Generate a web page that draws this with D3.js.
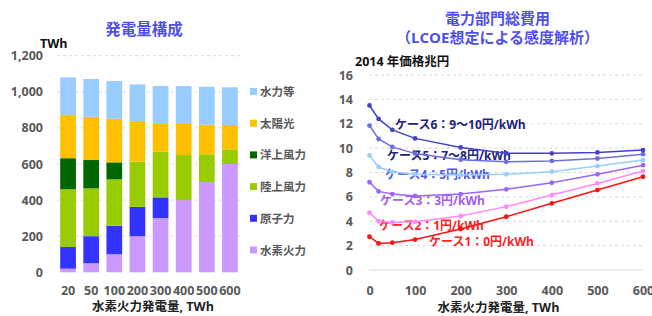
<!DOCTYPE html>
<html>
<head>
<meta charset="utf-8">
<script src="https://cdn.jsdelivr.net/npm/d3@7"></script>
<style>
  body { margin: 0; background: #fff; }
  svg { display: block; font-family: "Open Sans", "Noto Sans CJK JP", sans-serif; font-weight: bold; }
</style>
</head>
<body>
<svg width="652" height="316"></svg>
<script>
// ---- left chart data: generation mix (TWh) ----
let categories = ["20", "50", "100", "200", "300", "400", "500", "600"];
let sources = ["水素火力", "原子力", "陸上風力", "洋上風力", "太陽光", "水力等"];
let hydrogen = [20, 50, 100, 200, 300, 400, 500, 600];
let nuclear  = [120, 150, 158, 163, 115, 0, 0, 0];
let onshore  = [320, 265, 257, 250, 253, 250, 154, 81];
let offshore = [172, 157, 94, 0, 0, 0, 0, 0];
let solar    = [239, 240, 242, 220, 154, 172, 164, 135];
let hydro    = [209, 209, 209, 208, 210, 210, 210, 209];
let barTicks = [0, 200, 400, 600, 800, 1000, 1200];

// ---- right chart data: total system cost (trillion yen, 2014 prices) ----
let h2Output = [0, 20, 50, 100, 200, 300, 400, 500, 600];
let caseNames = ["ケース6：9～10円/kWh", "ケース5：7～8円/kWh", "ケース4：5円/kWh",
                 "ケース3：3円/kWh", "ケース2：1円/kWh", "ケース1：0円/kWh"];
let case6 = [13.5, 12.4, 11.5, 10.8, 10.05, 9.57, 9.57, 9.65, 9.84];
let case5 = [11.85, 10.75, 10.1, 9.55, 9.05, 8.88, 8.95, 9.15, 9.5];
let case4 = [9.4, 8.45, 8.05, 7.85, 7.8, 7.85, 8.07, 8.53, 9.02];
let case3 = [7.2, 6.45, 6.23, 6.07, 6.23, 6.62, 7.16, 7.85, 8.6];
let case2 = [4.7, 4.0, 3.9, 3.95, 4.43, 5.2, 6.15, 7.1, 8.12];
let case1 = [2.73, 2.18, 2.24, 2.5, 3.36, 4.37, 5.47, 6.56, 7.65];
let costTicks = [0, 2, 4, 6, 8, 10, 12, 14, 16];
let costXTicks = [0, 100, 200, 300, 400, 500, 600];

let svg = d3.select("svg");
let titleColor = "#4f4fef",
    tickColor = "#595959",
    gridColor = "#d9d9d9";

// ================= left: stacked bars =================
let barColors = {
  "水素火力": "#cc99ff",
  "原子力": "#3333ff",
  "陸上風力": "#99cc00",
  "洋上風力": "#006600",
  "太陽光": "#ffc000",
  "水力等": "#99ccff"
};
let seriesVals = {
  "水素火力": hydrogen, "原子力": nuclear, "陸上風力": onshore,
  "洋上風力": offshore, "太陽光": solar, "水力等": hydro
};
let rows = categories.map(function(c, i) {
  let r = {cat: c};
  sources.forEach(function(s) { r[s] = seriesVals[s][i]; });
  return r;
});
let stacked = d3.stack().keys(sources)(rows);

let xb = d3.scaleBand().domain(categories).range([56.5, 241.5]).paddingInner(0.32).paddingOuter(0.16);
let yb = d3.scaleLinear().domain([0, 1200]).range([272.3, 55.7]);

let left = svg.append("g");

left.append("text").attr("x", 144).attr("y", 35).attr("text-anchor", "middle")
  .attr("fill", titleColor).attr("font-size", 15.5).text("発電量構成");

left.append("text").attr("x", 40).attr("y", 48).attr("font-size", 12.5)
  .attr("fill", "#111").text("TWh");

left.selectAll(".bgrid").data(barTicks.slice(1)).enter().append("line")
  .attr("x1", 57).attr("x2", 243)
  .attr("y1", function(d) { return yb(d); }).attr("y2", function(d) { return yb(d); })
  .attr("stroke", gridColor).attr("stroke-dasharray", "3,3");

left.append("g").attr("transform", "translate(43,0)")
  .call(d3.axisLeft(yb).tickValues(barTicks).tickSize(0).tickPadding(0).tickFormat(d3.format(",")))
  .call(function(g) { g.select(".domain").remove(); })
  .selectAll("text").attr("fill", tickColor).attr("font-size", 12.5)
  .attr("font-family", "'Open Sans', sans-serif").attr("font-weight", "bold");

left.selectAll(".layer").data(stacked).enter().append("g")
  .attr("fill", function(d) { return barColors[d.key]; })
  .selectAll("rect").data(function(d) { return d; }).enter().append("rect")
  .attr("x", function(d) { return xb(d.data.cat); })
  .attr("width", xb.bandwidth())
  .attr("y", function(d) { return yb(d[1]); })
  .attr("height", function(d) { return yb(d[0]) - yb(d[1]); });

left.append("g").attr("transform", "translate(0,286)")
  .call(d3.axisBottom(xb).tickSize(0).tickPadding(0))
  .call(function(g) { g.select(".domain").remove(); })
  .selectAll("text").attr("fill", tickColor).attr("font-size", 12.5)
  .attr("font-family", "'Open Sans', sans-serif").attr("font-weight", "bold");

left.append("text").attr("x", 153).attr("y", 311).attr("text-anchor", "middle")
  .attr("font-size", 12.5).attr("fill", "#222").text("水素火力発電量, TWh");

// legend (top to bottom reversed stack order)
let legendOrder = sources.slice().reverse();
let legY = d3.scalePoint().domain(legendOrder).range([91.5, 250]);
let leg = left.selectAll(".leg").data(legendOrder).enter().append("g")
  .attr("transform", function(d) { return "translate(250," + legY(d) + ")"; });
leg.append("rect").attr("x", 0).attr("y", -3.5).attr("width", 7).attr("height", 7)
  .attr("fill", function(d) { return barColors[d]; });
leg.append("text").attr("x", 10).attr("y", 4.5).attr("font-size", 11.5)
  .attr("fill", tickColor).text(function(d) { return d; });

// ================= right: cost lines =================
let xl = d3.scaleLinear().domain([0, 600]).range([369.5, 643]);
let yl = d3.scaleLinear().domain([0, 16]).range([270, 75]);

let right = svg.append("g");

right.append("text").attr("x", 497.5).attr("y", 24).attr("text-anchor", "middle")
  .attr("fill", titleColor).attr("font-size", 15).text("電力部門総費用");
right.append("text").attr("x", 497.5).attr("y", 42.5).attr("text-anchor", "middle")
  .attr("fill", titleColor).attr("font-size", 15).text("（LCOE想定による感度解析）");

right.append("text").attr("x", 355).attr("y", 66).attr("font-size", 12.5)
  .attr("fill", "#111").text("2014 年価格兆円");

right.selectAll(".lgrid").data(costTicks.slice(1)).enter().append("line")
  .attr("x1", 369).attr("x2", 643)
  .attr("y1", function(d) { return yl(d); }).attr("y2", function(d) { return yl(d); })
  .attr("stroke", gridColor).attr("stroke-dasharray", "3,3");
right.append("line").attr("x1", 369).attr("x2", 643)
  .attr("y1", yl(0)).attr("y2", yl(0)).attr("stroke", gridColor).attr("stroke-width", 1);

right.append("g").attr("transform", "translate(353,0)")
  .call(d3.axisLeft(yl).tickValues(costTicks).tickSize(0).tickPadding(0))
  .call(function(g) { g.select(".domain").remove(); })
  .selectAll("text").attr("fill", tickColor).attr("font-size", 12.5)
  .attr("font-family", "'Open Sans', sans-serif").attr("font-weight", "bold");

right.append("g").attr("transform", "translate(0,286)")
  .call(d3.axisBottom(xl).tickValues(costXTicks).tickSize(0).tickPadding(0))
  .call(function(g) { g.select(".domain").remove(); })
  .selectAll("text").attr("fill", tickColor).attr("font-size", 12.5)
  .attr("font-family", "'Open Sans', sans-serif").attr("font-weight", "bold");

right.append("text").attr("x", 498.5).attr("y", 312).attr("text-anchor", "middle")
  .attr("font-size", 12.5).attr("fill", "#222").text("水素火力発電量, TWh");

let caseData = [case6, case5, case4, case3, case2, case1];
let lineColors = ["#4343c8", "#6d6de6", "#99ccff", "#9966ff", "#ff88ff", "#ff1111"];
let labelColors = ["#23237a", "#23237a", "#4a5ae6", "#a45cf2", "#ff1f1f", "#ff1f1f"];
let labelPos = [[395, 11.9], [387, 9.4], [385, 7.8], [380, 5.7], [379, 3.65], [429, 2.35]];

// labels are drawn first, the lines run over them
right.selectAll(".clabel").data(caseNames).enter().append("text")
  .attr("x", function(d, i) { return labelPos[i][0]; })
  .attr("y", function(d, i) { return yl(labelPos[i][1]) + 4.5; })
  .attr("font-size", 12).attr("fill", function(d, i) { return labelColors[i]; })
  .text(function(d) { return d; });

let line = d3.line()
  .x(function(d, i) { return xl(h2Output[i]); })
  .y(function(d) { return yl(d); });

caseData.slice().reverse().forEach(function(vals, k) {
  let i = caseData.length - 1 - k;
  right.append("path").datum(vals)
    .attr("fill", "none").attr("stroke", lineColors[i]).attr("stroke-width", 1.5)
    .attr("d", line);
  right.selectAll(".dot" + i).data(vals).enter().append("circle")
    .attr("r", 2.4)
    .attr("cx", function(d, j) { return xl(h2Output[j]); })
    .attr("cy", function(d) { return yl(d); })
    .attr("fill", lineColors[i]);
});
</script>
</body>
</html>
